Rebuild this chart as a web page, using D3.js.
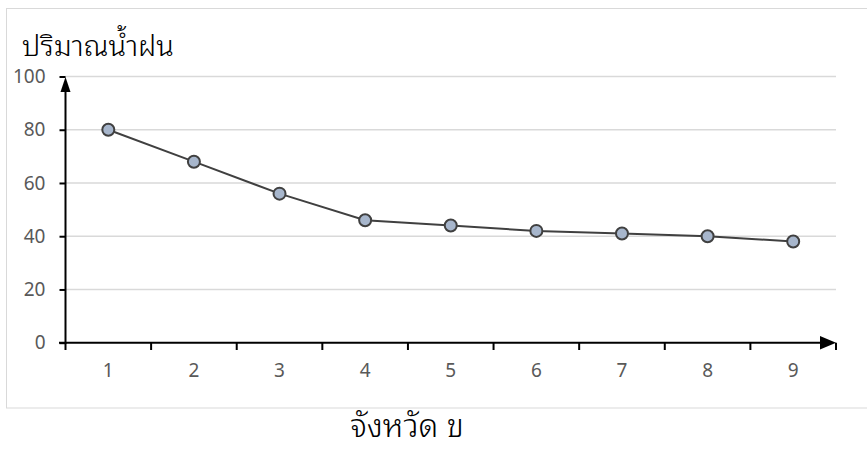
<!DOCTYPE html>
<html><head><meta charset="utf-8">
<script src="https://cdn.jsdelivr.net/npm/d3@7"></script>
<style>body{margin:0;background:#fff}svg{display:block}
.tick text{font-family:'Noto Sans','Open Sans',sans-serif;font-size:19px;fill:#595959}
</style>
</head><body>
<script>
const categories = ["1","2","3","4","5","6","7","8","9"];
const rainfall = [80, 68, 56, 46, 44, 42, 41, 40, 38];
const yTicks = [0, 20, 40, 60, 80, 100];
const yTitle = "ปริมาณน้ำฝน";
const xTitle = "จังหวัด ข";

const W = 867, H = 459;
const thaiFont = "'Noto Sans Thai Looped', 'Noto Sans', sans-serif";
const svg = d3.select("body").append("svg").attr("width", W).attr("height", H);

// chart border
svg.append("rect").attr("x", 6.5).attr("y", 8.5).attr("width", 880).attr("height", 399.5)
  .attr("fill", "none").attr("stroke", "#d9d9d9").attr("stroke-width", 1);

const x = d3.scaleBand().domain(categories).range([65.5, 836]);
const y = d3.scaleLinear().domain([0, 100]).range([342.7, 76.5]);

// gridlines
svg.append("g").selectAll("line").data(yTicks.filter(d => d > 0)).join("line")
  .attr("x1", 65).attr("x2", 836).attr("y1", d => y(d)).attr("y2", d => y(d))
  .attr("stroke", "#d9d9d9").attr("stroke-width", 1.5);

// y axis
const yAxis = svg.append("g").attr("transform", "translate(65.5,0)")
  .call(d3.axisLeft(y).tickValues(yTicks).tickSize(6).tickPadding(14));
yAxis.attr("font-size", null).attr("font-family", null);
yAxis.select(".domain").remove();
yAxis.selectAll(".tick line").attr("stroke", "#000").attr("stroke-width", 2);
svg.append("line").attr("x1", 65.5).attr("x2", 65.5).attr("y1", 344).attr("y2", 90)
  .attr("stroke", "#000").attr("stroke-width", 2);
svg.append("path").attr("d", "M60.5,92 L65.5,77 L70.5,92 Z").attr("fill", "#000");

// x axis
const xAxis = svg.append("g").attr("transform", "translate(0,342.7)")
  .call(d3.axisBottom(x).tickSize(0).tickPadding(21));
xAxis.attr("font-size", null).attr("font-family", null);
xAxis.select(".domain").remove();
const bounds = categories.map(c => x(c)).concat([x.range()[1]]);
svg.append("g").selectAll("line").data(bounds).join("line")
  .attr("x1", d => d).attr("x2", d => d).attr("y1", 342.7).attr("y2", 350)
  .attr("stroke", "#000").attr("stroke-width", 2);
svg.append("line").attr("x1", 59).attr("x2", 822).attr("y1", 342.7).attr("y2", 342.7)
  .attr("stroke", "#000").attr("stroke-width", 2);
svg.append("path").attr("d", "M820,336 L836,342.7 L820,349.5 Z").attr("fill", "#000");

// line
const cx = d => x(d) + x.bandwidth() / 2;
svg.append("path").datum(rainfall.map((v, i) => [cx(categories[i]), y(v)]))
  .attr("d", d3.line()).attr("fill", "none").attr("stroke", "#404040").attr("stroke-width", 2);
svg.append("g").selectAll("circle").data(rainfall).join("circle")
  .attr("cx", (d, i) => cx(categories[i])).attr("cy", d => y(d)).attr("r", 6)
  .attr("fill", "#a7b6cc").attr("stroke", "#404040").attr("stroke-width", 2);

// titles
svg.append("text").attr("x", 22).attr("y", 56).text(yTitle)
  .attr("font-family", thaiFont).attr("font-size", 29).attr("font-weight", 300).attr("fill", "#000");
svg.append("text").attr("x", 407).attr("y", 437).attr("text-anchor", "middle").text(xTitle)
  .attr("font-family", thaiFont).attr("font-size", 32).attr("font-weight", 300).attr("fill", "#000");
</script>
</body></html>
